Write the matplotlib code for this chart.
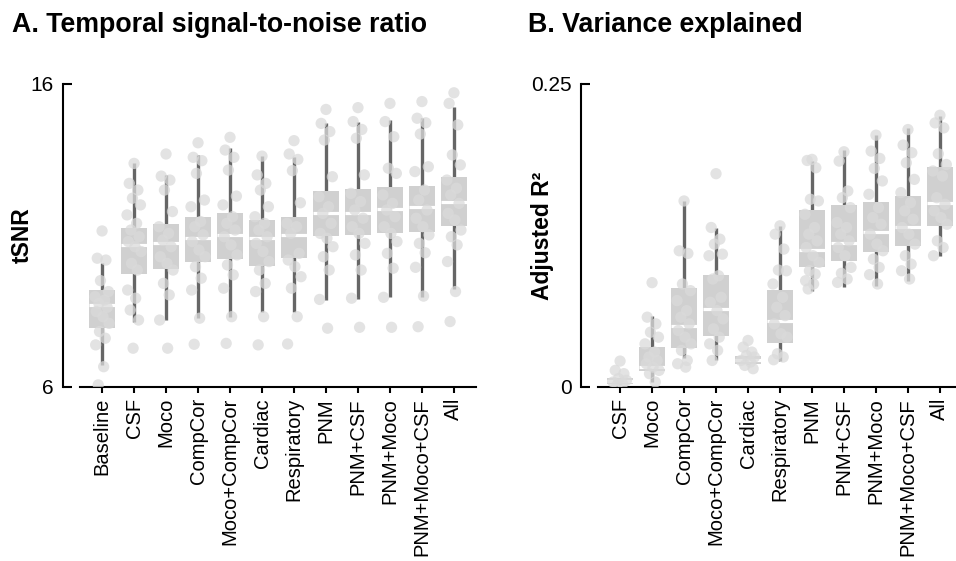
import matplotlib
matplotlib.use("Agg")
import matplotlib.pyplot as plt
import numpy as np

plt.rcParams['font.family'] = ['Liberation Sans', 'DejaVu Sans']

# ---------------- Panel A: tSNR ----------------
cats_a = ["Baseline", "CSF", "Moco", "CompCor", "Moco+CompCor", "Cardiac",
          "Respiratory", "PNM", "PNM+CSF", "PNM+Moco", "PNM+Moco+CSF", "All"]
pts_baseline = [11.15, 10.25, 10.19, 9.51, 9.15, 8.98, 8.87, 8.76, 8.63, 8.49, 8.32, 8.10, 7.83, 7.61, 7.39, 6.67, 6.07]
pts_csf = [13.38, 12.72, 12.50, 12.23, 12.01, 11.68, 11.40, 11.18, 10.96, 10.80, 10.63, 10.47, 10.08, 9.86, 9.20, 8.93, 8.54, 8.21, 7.28]
pts_moco = [13.69, 12.96, 12.83, 12.50, 11.79, 11.29, 11.07, 10.85, 10.63, 10.30, 10.08, 9.86, 9.42, 9.04, 8.21, 7.28]
pts_compcor = [14.06, 13.58, 13.47, 13.05, 12.17, 11.95, 11.46, 11.29, 11.02, 10.80, 10.52, 10.30, 9.97, 9.59, 9.20, 8.27, 7.41]
pts_moco_compcor = [14.24, 13.82, 13.58, 13.16, 12.30, 12.01, 11.62, 11.40, 11.18, 10.96, 10.69, 10.36, 10.03, 9.70, 9.26, 8.32, 7.44]
pts_cardiac = [13.62, 13.00, 12.72, 12.50, 11.95, 11.62, 11.40, 11.18, 10.96, 10.74, 10.47, 10.14, 9.86, 9.42, 9.15, 8.32, 7.39]
pts_resp = [14.13, 13.69, 13.51, 13.14, 12.08, 11.40, 11.29, 11.07, 10.41, 10.19, 9.97, 9.64, 9.26, 8.32, 7.42]
pts_pnm = [15.16, 14.70, 14.43, 14.15, 12.94, 12.28, 11.95, 11.73, 11.40, 11.07, 10.91, 10.63, 10.30, 9.86, 8.89, 7.94]
pts_pnm_csf = [15.22, 14.76, 14.50, 14.21, 13.00, 12.39, 12.12, 11.84, 11.57, 11.29, 11.07, 10.74, 10.36, 9.86, 8.93, 7.97]
pts_pnm_moco = [15.36, 14.76, 14.26, 13.22, 13.05, 12.34, 12.06, 11.84, 11.62, 11.29, 11.07, 10.80, 10.41, 9.92, 8.96, 7.97]
pts_pnm_moco_csf = [15.42, 14.87, 14.72, 14.35, 13.27, 13.11, 12.50, 12.17, 11.84, 11.57, 11.29, 11.02, 10.74, 10.43, 9.95, 9.00, 7.99]
pts_all = [15.71, 15.36, 14.65, 13.66, 13.33, 12.83, 12.56, 12.34, 12.06, 11.73, 11.51, 11.18, 10.96, 10.69, 10.14, 9.15, 8.16]
points_a = [pts_baseline, pts_csf, pts_moco, pts_compcor, pts_moco_compcor, pts_cardiac,
            pts_resp, pts_pnm, pts_pnm_csf, pts_pnm_moco, pts_pnm_moco_csf, pts_all]
q1_a = [7.94, 9.73, 9.88, 10.14, 10.21, 9.99, 10.25, 10.98, 11.02, 11.07, 11.10, 11.31]
med_a = [8.70, 10.70, 10.76, 10.91, 11.02, 10.91, 11.02, 11.73, 11.75, 11.86, 11.93, 12.12]
q3_a = [9.20, 11.24, 11.38, 11.62, 11.73, 11.51, 11.62, 12.48, 12.52, 12.59, 12.63, 12.92]
wlo_a = [6.73, 8.16, 8.21, 8.27, 8.32, 8.49, 8.49, 8.87, 8.89, 8.96, 8.98, 9.22]
whi_a = [10.08, 13.38, 13.00, 13.66, 13.88, 13.62, 13.60, 14.70, 14.76, 14.81, 14.87, 15.25]

# ---------------- Panel B: adjusted R2 ----------------
cats_b = ["CSF", "Moco", "CompCor", "Moco+CompCor", "Cardiac", "Respiratory",
          "PNM", "PNM+CSF", "PNM+Moco", "PNM+Moco+CSF", "All"]
r2_csf = [0.0214, 0.0137, 0.011, 0.0069, 0.0055, 0.0041, 0.0027, 0.0014]
r2_moco = [0.0861, 0.0576, 0.0521, 0.0452, 0.0411, 0.0356, 0.0288, 0.0247, 0.0219, 0.0192, 0.0164, 0.0137, 0.011, 0.0041]
r2_compcor = [0.1535, 0.1124, 0.1102, 0.085, 0.0795, 0.0713, 0.063, 0.0576, 0.0521, 0.0466, 0.0411, 0.0356, 0.0302, 0.0219, 0.0192, 0.0164]
r2_moco_compcor = [0.176, 0.1316, 0.122, 0.1179, 0.1096, 0.1083, 0.0918, 0.0891, 0.074, 0.0699, 0.063, 0.0562, 0.048, 0.0411, 0.0356, 0.0302, 0.0219]
r2_cardiac = [0.0384, 0.0329, 0.0288, 0.026, 0.0247, 0.0219, 0.0206, 0.0178, 0.0151]
r2_resp = [0.133, 0.1261, 0.1138, 0.0965, 0.0959, 0.085, 0.074, 0.0658, 0.0589, 0.0521, 0.0439, 0.0411, 0.0274, 0.0247, 0.0225]
r2_pnm = [0.1878, 0.1869, 0.1809, 0.1549, 0.1535, 0.1425, 0.1316, 0.1261, 0.1206, 0.1151, 0.1083, 0.1028, 0.0959, 0.0932, 0.0877, 0.085, 0.0809]
r2_pnm_csf = [0.1941, 0.1864, 0.1617, 0.1562, 0.148, 0.1357, 0.1316, 0.1261, 0.1206, 0.1151, 0.1083, 0.0987, 0.0938, 0.0891, 0.0863]
r2_pnm_moco = [0.2078, 0.1946, 0.1886, 0.1804, 0.17, 0.159, 0.148, 0.1398, 0.1343, 0.1261, 0.1179, 0.1124, 0.1055, 0.0987, 0.0927, 0.085]
r2_pnm_moco_csf = [0.2124, 0.1996, 0.1933, 0.185, 0.1713, 0.1604, 0.1521, 0.1453, 0.1384, 0.1316, 0.1261, 0.1179, 0.1083, 0.1014, 0.0959, 0.0891]
r2_all = [0.2242, 0.2179, 0.2138, 0.1924, 0.1836, 0.1782, 0.1741, 0.1562, 0.1508, 0.1453, 0.1398, 0.1343, 0.1206, 0.1151, 0.1083]
points_b = [r2_csf, r2_moco, r2_compcor, r2_moco_compcor, r2_cardiac, r2_resp,
            r2_pnm, r2_pnm_csf, r2_pnm_moco, r2_pnm_moco_csf, r2_all]
q1_b = [0.0025, 0.0135, 0.0323, 0.0419, 0.0190, 0.0362, 0.0992, 0.1036, 0.1110, 0.1165, 0.1329]
med_b = [0.0048, 0.0165, 0.0507, 0.0644, 0.0222, 0.0543, 0.1129, 0.1184, 0.1277, 0.1324, 0.1521]
q3_b = [0.0075, 0.0329, 0.0817, 0.0927, 0.0255, 0.0800, 0.1458, 0.1502, 0.1530, 0.1576, 0.1817]
wlo_b = [0.0025, 0.0041, 0.0241, 0.0219, 0.0190, 0.0214, 0.0795, 0.0828, 0.0836, 0.0877, 0.1083]
whi_b = [0.0075, 0.0589, 0.1535, 0.1316, 0.0255, 0.1330, 0.1864, 0.1952, 0.2083, 0.2138, 0.2234]

# styles
BOX_C = '#d0d0d0'
WHISK_C = '#666666'
PT_C = '#dadada'
JIT = [0.0, -0.15, 0.12, -0.05, 0.2, -0.22, 0.08, -0.1, 0.16, -0.18, 0.03, 0.22, -0.08, 0.1, -0.2, 0.05, -0.12, 0.14, -0.03]


def draw_panel(ax, cats, points, q1, med, q3, wlo, whi):
    x = np.arange(len(cats))
    ax.vlines(x, wlo, whi, color=WHISK_C, lw=2.4, zorder=1)
    ax.bar(x, np.array(q3) - np.array(q1), bottom=q1, width=0.82, color=BOX_C, zorder=2)
    ax.hlines(med, x - 0.41, x + 0.41, color='white', lw=2.3, zorder=3)
    for i, vals in enumerate(points):
        xs = [x[i] + JIT[j % len(JIT)] for j in range(len(vals))]
        ax.scatter(xs, vals, s=66, color=PT_C, alpha=0.75, edgecolors='none', zorder=4)
    ax.set_xticks(x)
    ax.set_xticklabels(cats, rotation=90, ha='center', va='top', fontsize=14.5)
    ax.set_xlim(-0.69, len(cats) - 1 + 0.69)
    for s in ['top', 'right']:
        ax.spines[s].set_visible(False)
    ax.spines['left'].set_position(('outward', 12))
    ax.spines['left'].set_linewidth(1.5)
    ax.spines['bottom'].set_linewidth(1.5)
    ax.tick_params(axis='x', direction='out', length=4.5, width=1.5, pad=3.5)
    ax.tick_params(axis='y', direction='in', length=6.5, width=1.5, pad=7, labelsize=15)


fig = plt.figure(figsize=(9.56, 5.61), dpi=100)
axA = fig.add_axes([80 / 956, 174 / 561, 396 / 956, 303 / 561])
axB = fig.add_axes([598 / 956, 174 / 561, 364 / 956, 303 / 561])

draw_panel(axA, cats_a, points_a, q1_a, med_a, q3_a, wlo_a, whi_a)
axA.set_ylim(6, 16)
axA.set_yticks([6, 16])
axA.set_yticklabels(['6', '16'])
axA.set_ylabel('tSNR', fontsize=16.5, fontweight='bold', va='center')
axA.yaxis.set_label_coords((22 - 80) / 396, 0.5)

draw_panel(axB, cats_b, points_b, q1_b, med_b, q3_b, wlo_b, whi_b)
axB.set_ylim(0, 0.25)
axB.set_yticks([0, 0.25])
axB.set_yticklabels(['0', '0.25'])
axB.set_ylabel('Adjusted R²', fontsize=16.5, fontweight='bold', va='center')
axB.yaxis.set_label_coords((543 - 598) / 364, 0.5)

fig.text(12 / 956, 1 - 32 / 561, 'A. Temporal signal-to-noise ratio', fontsize=19.3,
         fontweight='bold', va='baseline', ha='left')
fig.text(528 / 956, 1 - 32 / 561, 'B. Variance explained', fontsize=19.3,
         fontweight='bold', va='baseline', ha='left')

fig.savefig('out.png', dpi=100)
